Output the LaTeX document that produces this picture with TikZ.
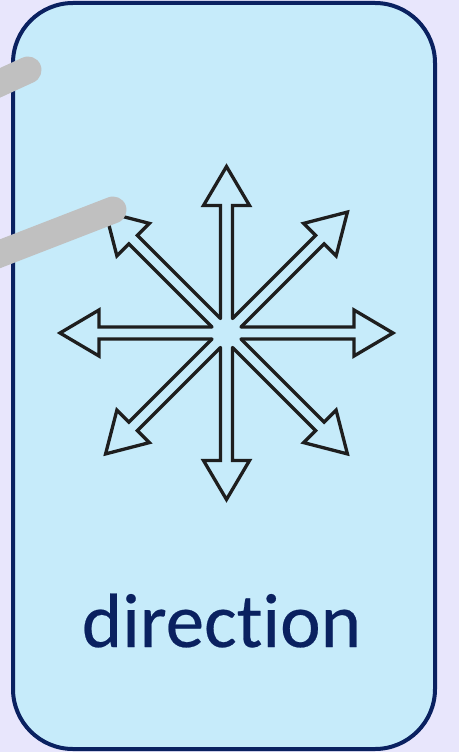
\documentclass[tikz,border=0pt]{standalone}
\usepackage{fontspec}
\setmainfont[Ligatures=NoCommon]{Carlito}
\newfontfamily\lblfont[Ligatures=NoCommon,FakeBold=0.3]{Carlito}
\definecolor{bgc}{RGB}{232,230,252}
\definecolor{boxfill}{RGB}{198,235,250}
\definecolor{navy}{RGB}{10,33,96}
\definecolor{ink}{RGB}{30,30,30}
\definecolor{grayline}{RGB}{192,192,192}
\tikzset{
  arrowoutline/.style={draw=ink, line width=3.3pt, line join=miter, line cap=round},
  pointer/.style={draw=grayline, line width=27pt, line cap=round},
  card/.style={draw=navy, line width=4pt, fill=boxfill, rounded corners=60pt},
  label/.style={text=navy, font=\lblfont\fontsize{77}{80}\selectfont, anchor=base, inner sep=0pt}
}
\begin{document}
\begin{tikzpicture}[x=1pt,y=-1pt]
\fill[bgc] (0,0) rectangle (459,752);
\useasboundingbox (0,0) rectangle (459,752);
\draw[card] (13,3) rectangle (435,749);
\coordinate (c) at (226.5,333);
\foreach \a/\L in {0/166.5,45/171,90/166.5,135/171,180/166.5,225/171,270/166.5,315/171}{
  \pgfmathsetmacro\B{\L-39}
  \draw[arrowoutline, shift={(c)}, rotate=\a]
    (-22.5:15.68) -- (\B,-6) -- (\B,-23) -- (\L,0) -- (\B,23) -- (\B,6) -- (22.5:15.68);
}
\node[label] (t) at (221.5,647) {direction};
\coordinate (p1a) at (-20,92);
\coordinate (p1b) at (28,70);
\coordinate (p2a) at (-20,261.5);
\coordinate (p2b) at (113,210);
\draw[pointer] (p1a) -- (p1b);
\draw[pointer] (p2a) -- (p2b);
\end{tikzpicture}
\end{document}
